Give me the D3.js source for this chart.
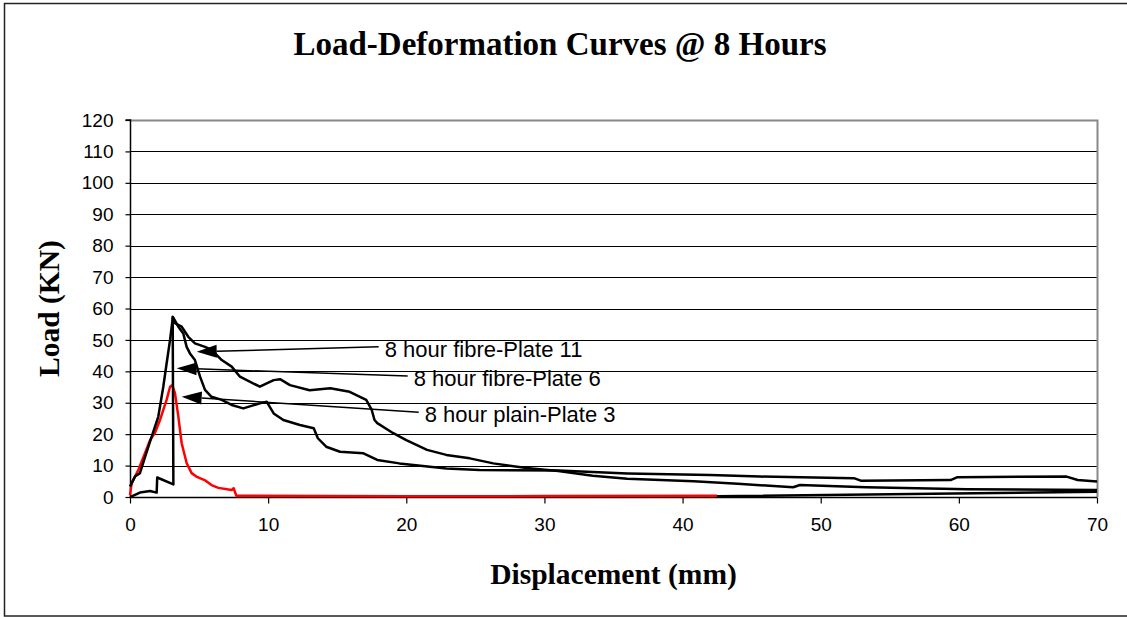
<!DOCTYPE html>
<html>
<head>
<meta charset="utf-8">
<script src="https://cdn.jsdelivr.net/npm/d3@7"></script>
<style>
  html, body { margin: 0; padding: 0; background: #fff; }
  svg { display: block; }
</style>
</head>
<body>
<svg id="chart" width="1127" height="617"></svg>
<script>
// Load-deformation test records (displacement in mm, load in kN)
const plate11X = [0, 0.36, 0.72, 1.09, 1.57, 2.05, 2.41, 2.65, 2.9, 3.1, 3.26, 3.74, 4.22, 4.7, 5.43, 5.91, 6.64, 7.36, 7.96, 9.4, 10.4, 10.86, 11.58, 13, 14.5, 15.9, 17.1, 17.5, 17.7, 17.9, 19.06, 20, 21.5, 22.9, 24.6, 26.3, 28.7, 31, 33.5, 36, 40.8, 44, 48, 48.5, 53.3, 60.6, 70];
const plate11Y = [3.3, 6.5, 7.6, 12.8, 19.2, 25.6, 35.1, 42.5, 50, 57.2, 55.3, 54.2, 51, 48.9, 47.8, 46.8, 43.6, 41.5, 38.3, 35.1, 37.2, 37.5, 35.6, 34, 34.6, 33.5, 30.9, 27.7, 24.5, 23.5, 20.3, 18.1, 15, 13.4, 12.3, 10.7, 9.2, 8.3, 6.8, 5.8, 5.0, 4.2, 3.1, 3.8, 3.1, 2.5, 2.2];

const plate6X = [0, 0.12, 0.72, 1.45, 1.93, 1.97, 3.14, 3.09, 3.5, 3.86, 4.1, 4.34, 4.7, 5.07, 5.43, 5.9, 6.64, 7.36, 8.2, 9.4, 9.9, 10.4, 11.1, 12.3, 13.3, 13.6, 14.2, 15.2, 16.9, 17.9, 19.5, 22.9, 25.3, 31, 36, 42, 45.6, 52.4, 52.9, 59.4, 59.9, 67.8, 68.6, 70];
const plate6Y = [0, 0.2, 1.4, 1.9, 1.4, 6.2, 4.0, 57.4, 54.2, 52, 47.8, 45.7, 43.6, 38.3, 34.1, 31.9, 30.9, 29.3, 28.2, 29.8, 30.3, 26.6, 24.5, 22.9, 21.9, 18.7, 16, 14.4, 13.9, 11.8, 10.7, 9.1, 8.6, 8.4, 7.5, 7.0, 6.5, 6.0, 5.2, 5.4, 6.3, 6.5, 5.4, 4.9];

const plate3X = [7.7, 42.5, 70];
const plate3Y = [0.2, 0.2, 1.7];

const redX = [0, 0.12, 0.6, 1.09, 1.45, 1.81, 2.17, 2.41, 2.65, 2.9, 3.06, 3.26, 3.5, 3.74, 4.1, 4.46, 4.8, 5.4, 5.9, 6.4, 7.36, 7.5, 7.7, 20, 30, 42.5];
const redY = [0.6, 4.4, 8.6, 14, 18.1, 20.4, 24.5, 27.7, 30.9, 35.1, 35.6, 33, 25.6, 17.1, 10.8, 7.6, 6.5, 5.4, 3.8, 2.9, 2.2, 2.8, 0.4, 0.2, 0.3, 0.4];

const xTicks = [0, 10, 20, 30, 40, 50, 60, 70];
const yTicks = [0, 10, 20, 30, 40, 50, 60, 70, 80, 90, 100, 110, 120];

// Callout labels: text, arrow tip (data units), label anchor (data units)
const noteText = ["8 hour fibre-Plate 11", "8 hour fibre-Plate 6", "8 hour plain-Plate 3"];
const noteTipX = [4.83, 3.38, 3.74];
const noteTipY = [46.2, 41.0, 31.9];
const noteEndX = [18.0, 20.1, 20.9];
const noteEndY = [47.8, 38.5, 27.0];

const svg = d3.select("#chart");
const W = 1127, H = 617;
const plot = { left: 130, right: 1097, top: 120, bottom: 497 };

// outer chart frame
svg.append("rect")
  .attr("x", 4.5).attr("y", 3.5)
  .attr("width", W).attr("height", 612.5)
  .attr("fill", "#fff").attr("stroke", "#222").attr("stroke-width", 1.5);

const x = d3.scaleLinear().domain([0, 70]).range([plot.left, plot.right]);
const y = d3.scaleLinear().domain([0, 120]).range([plot.bottom, plot.top]);

// horizontal gridlines
svg.append("g")
  .selectAll("line")
  .data(yTicks.filter(t => t > 0 && t < 120))
  .join("line")
  .attr("x1", plot.left).attr("x2", plot.right)
  .attr("y1", d => Math.round(y(d)) + 0.5).attr("y2", d => Math.round(y(d)) + 0.5)
  .attr("stroke", "#000").attr("stroke-width", 1);

// plot frame: grey top and right edges
svg.append("path")
  .attr("d", `M${plot.left},${plot.top + 0.5}H${plot.right + 0.5}V${plot.bottom}`)
  .attr("fill", "none").attr("stroke", "#888").attr("stroke-width", 2);

// axes
const yAxis = d3.axisLeft(y).tickValues(yTicks).tickSize(5).tickPadding(12).tickFormat(d3.format("d"));
const xAxis = d3.axisBottom(x).tickValues(xTicks).tickSize(6).tickPadding(14).tickFormat(d3.format("d"));

const gy = svg.append("g").attr("transform", `translate(${plot.left + 0.5},0)`).call(yAxis);
const gx = svg.append("g").attr("transform", `translate(0,${plot.bottom + 0.5})`).call(xAxis);

[gy, gx].forEach(g => {
  g.select(".domain").attr("stroke", "#000").attr("stroke-width", 1.5);
  g.selectAll(".tick line").attr("stroke", "#000").attr("stroke-width", 1.2);
  g.selectAll(".tick text")
    .attr("fill", "#000")
    .style("font-family", "Liberation Sans, Arial, sans-serif")
    .style("font-size", "19px");
});
gy.select(".domain").attr("d", `M-5,${plot.top}H0V${plot.bottom}`);
gx.select(".domain").attr("d", `M${plot.left},0H${plot.right}`);

// series
const line = d3.line().x(d => x(d[0])).y(d => y(d[1]));
const zip = (xs, ys) => xs.map((v, i) => [v, ys[i]]);

const series = [
  { pts: zip(plate3X, plate3Y), color: "#000" },
  { pts: zip(redX, redY), color: "#ff0000" },
  { pts: zip(plate11X, plate11Y), color: "#000" },
  { pts: zip(plate6X, plate6Y), color: "#000" }
];

svg.append("g")
  .selectAll("path")
  .data(series)
  .join("path")
  .attr("d", d => line(d.pts))
  .attr("fill", "none")
  .attr("stroke", d => d.color)
  .attr("stroke-width", 2.5)
  .attr("stroke-linejoin", "round");

// callouts with arrowheads
const notes = noteText.map((t, i) => ({
  text: t,
  tip: [x(noteTipX[i]), y(noteTipY[i])],
  end: [x(noteEndX[i]), y(noteEndY[i])]
}));

const gn = svg.append("g");
notes.forEach(n => {
  const dx = n.end[0] - n.tip[0], dy = n.end[1] - n.tip[1];
  const len = Math.hypot(dx, dy);
  const ux = dx / len, uy = dy / len;
  const headLen = 20, headHalf = 6.5;
  const bx = n.tip[0] + ux * headLen, by = n.tip[1] + uy * headLen;
  gn.append("line")
    .attr("x1", bx).attr("y1", by)
    .attr("x2", n.end[0]).attr("y2", n.end[1])
    .attr("stroke", "#000").attr("stroke-width", 1.5);
  gn.append("path")
    .attr("d", `M${n.tip[0]},${n.tip[1]}L${bx - uy * headHalf},${by + ux * headHalf}L${bx + uy * headHalf},${by - ux * headHalf}Z`)
    .attr("fill", "#000");
  gn.append("text")
    .attr("x", n.end[0] + 6).attr("y", n.end[1] + 10)
    .style("font-family", "Liberation Sans, Arial, sans-serif")
    .style("font-size", "22px")
    .attr("fill", "#000")
    .text(n.text);
});

// titles
svg.append("text")
  .attr("x", 560).attr("y", 55)
  .attr("text-anchor", "middle")
  .style("font-family", "Liberation Serif, Times New Roman, serif")
  .style("font-weight", "bold").style("font-size", "33px")
  .text("Load-Deformation Curves @ 8 Hours");

svg.append("text")
  .attr("x", (plot.left + plot.right) / 2).attr("y", 584)
  .attr("text-anchor", "middle")
  .style("font-family", "Liberation Serif, Times New Roman, serif")
  .style("font-weight", "bold").style("font-size", "29.5px")
  .text("Displacement (mm)");

svg.append("text")
  .attr("transform", `translate(59,${(plot.top + plot.bottom) / 2}) rotate(-90)`)
  .attr("text-anchor", "middle")
  .style("font-family", "Liberation Serif, Times New Roman, serif")
  .style("font-weight", "bold").style("font-size", "29.5px")
  .text("Load (KN)");
</script>
</body>
</html>
